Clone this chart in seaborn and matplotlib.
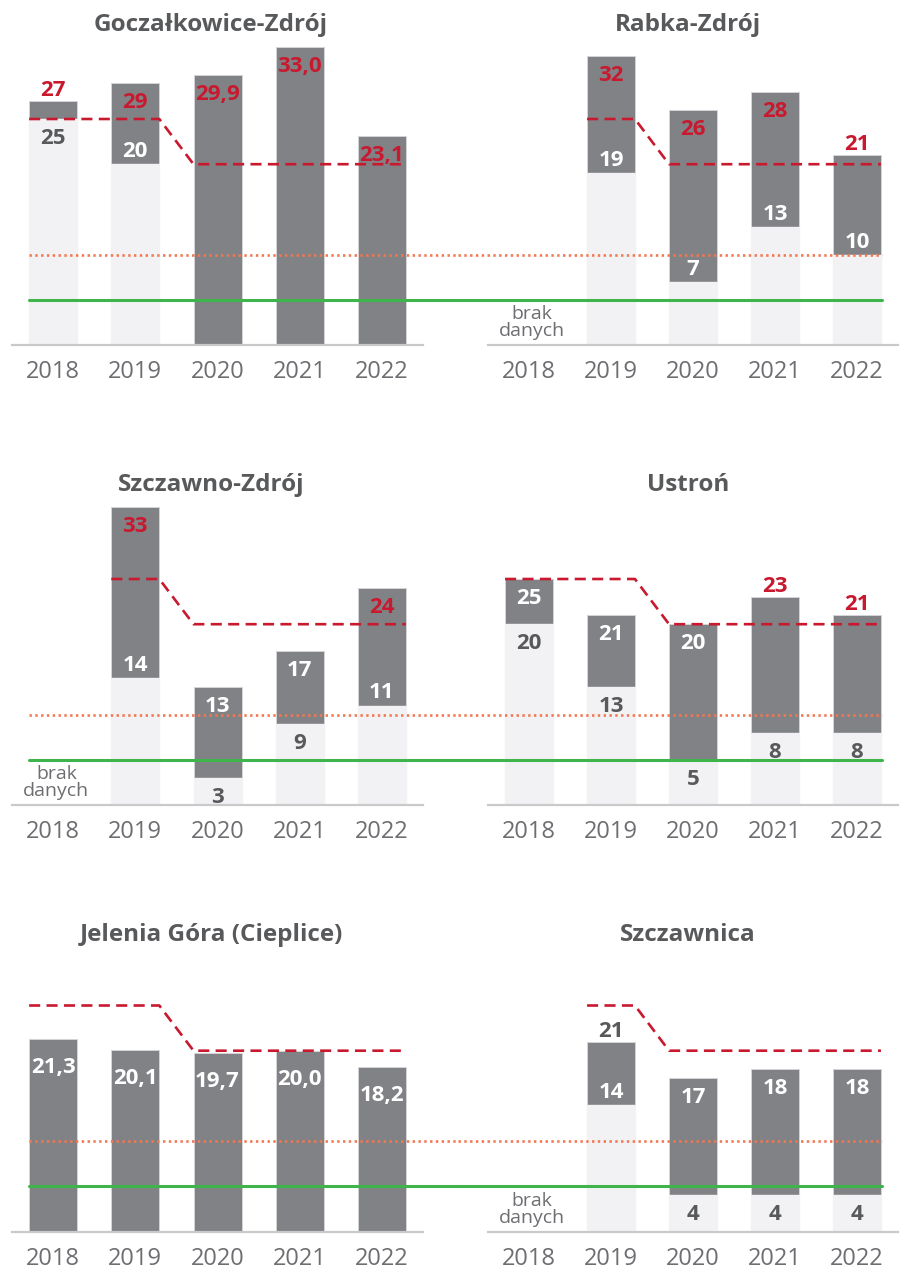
import numpy as np
import pandas as pd
import matplotlib
matplotlib.use("Agg")
import matplotlib.pyplot as plt
import matplotlib.transforms as mtransforms
import seaborn as sns

# ---------------- data ----------------
years = ["2018", "2019", "2020", "2021", "2022"]
limit_red = [25, 25, 20, 20, 20]     # dashed red threshold per year
limit_orange = 10                    # dotted orange threshold
limit_green = 5                      # solid green threshold

titles = ["Goczałkowice-Zdrój", "Rabka-Zdrój", "Szczawno-Zdrój",
          "Ustroń", "Jelenia Góra (Cieplice)", "Szczawnica"]

gocz_max = [27, 29, 29.9, 33.0, 23.1]
gocz_min = [25, 20, None, None, None]
gocz_dec = [0, 0, 1, 1, 1]

rabka_max = [None, 32, 26, 28, 21]
rabka_min = [None, 19, 7, 13, 10]
rabka_dec = [0, 0, 0, 0, 0]

szczawno_max = [None, 33, 13, 17, 24]
szczawno_min = [None, 14, 3, 9, 11]
szczawno_dec = [0, 0, 0, 0, 0]

ustron_max = [25, 21, 20, 23, 21]
ustron_min = [20, 13, 5, 8, 8]
ustron_dec = [0, 0, 0, 0, 0]

jelenia_max = [21.3, 20.1, 19.7, 20.0, 18.2]
jelenia_min = [None, None, None, None, None]
jelenia_dec = [1, 1, 1, 1, 1]

szczawnica_max = [None, 21, 17, 18, 18]
szczawnica_min = [None, 14, 4, 4, 4]
szczawnica_dec = [0, 0, 0, 0, 0]

no_data_text = "brak\ndanych"

# label placement (layout only): top label in / out / deep, low label in / out
gocz_pos = (["out", "in", "in", "in", "in"], ["out", "in", None, None, None])
rabka_pos = ([None, "in", "in", "in", "out"], [None, "in", "in", "in", "in"])
szczawno_pos = ([None, "in", "in", "in", "in"], [None, "in", "out", "out", "in"])
ustron_pos = (["in", "in", "in", "out", "out"], ["out", "out", "out", "out", "out"])
jelenia_pos = (["deep"] * 5, [None] * 5)
szczawnica_pos = ([None, "out", "in", "in", "in"], [None, "in", "out", "out", "out"])

stations = [
    (gocz_max, gocz_min, gocz_dec, gocz_pos),
    (rabka_max, rabka_min, rabka_dec, rabka_pos),
    (szczawno_max, szczawno_min, szczawno_dec, szczawno_pos),
    (ustron_max, ustron_min, ustron_dec, ustron_pos),
    (jelenia_max, jelenia_min, jelenia_dec, jelenia_pos),
    (szczawnica_max, szczawnica_min, szczawnica_dec, szczawnica_pos),
]

# ---------------- style ----------------
sns.set_style("white")
plt.rcParams["font.family"] = ["Open Sans", "DejaVu Sans"]

C_DARK = "#818286"
C_LIGHT = "#f2f2f4"
C_RED = "#c8192f"
C_ORANGE = "#f4774f"
C_GREEN = "#3db54a"
C_TEXT = "#58595b"
C_TICK = "#6d6e71"
C_BASE = "#c9c9c9"

W, H = 901, 1269
fig = plt.figure(figsize=(W / 100, H / 100), dpi=100)
fig.patch.set_facecolor("white")

PX_PER_UNIT = 9.04
YMAX = 36
col_x = [(12, 423), (488, 898)]
row_base = [345, 805, 1231.5]
title_y = [25, 485, 935]
title_x = [211, 688]
line_x = [(29, 458), (458, 882)]
BAR_W = 48 / 82.2

PT = 0.72  # points per pixel
LABEL_SIZE = 16


def fmt(v, d):
    if d:
        return f"{v:.1f}".replace(".", ",")
    return f"{v:.0f}"


def put_label(ax, i, val, txt, center_off_px, color, size=LABEL_SIZE):
    # baseline-anchored so that digits are visually centred on the offset
    digit_h = size / 0.72 * 0.714
    off = (center_off_px - digit_h / 2) * PT
    ax.annotate(txt, xy=(i, val), xytext=(0, off), textcoords="offset points",
                ha="center", va="baseline", fontsize=size, fontweight="bold",
                color=color, zorder=10)


for k, (vmax, vmin, vdec, (ptop, plow)) in enumerate(stations):
    r, c = divmod(k, 2)
    x0, x1 = col_x[c]
    base = row_base[r]
    hpx = YMAX * PX_PER_UNIT
    ax = fig.add_axes([x0 / W, 1 - base / H, (x1 - x0) / W, hpx / H])
    ax.set_facecolor("none")

    df_top = pd.DataFrame({"year": years, "value": vmax}).dropna()
    df_low = pd.DataFrame({"year": years, "value": vmin}).dropna()

    sns.barplot(data=df_top, x="year", y="value", order=years, ax=ax,
                color=C_DARK, saturation=1, width=BAR_W, errorbar=None,
                edgecolor="#d4d4d6", linewidth=0.7, zorder=2)
    if len(df_low):
        sns.barplot(data=df_low, x="year", y="value", order=years, ax=ax,
                    color=C_LIGHT, saturation=1, width=BAR_W, errorbar=None,
                    edgecolor=C_LIGHT, linewidth=1.0, zorder=3)

    ax.set_xlim(-0.5, 4.5)
    ax.set_ylim(0, YMAX)
    ax.set_xlabel("")
    ax.set_ylabel("")
    ax.set_yticks([])
    ax.set_xticks(range(len(years)))
    ax.set_xticklabels(years, fontsize=17, color=C_TICK)
    ax.tick_params(axis="x", length=0, pad=11)
    for s in ["top", "left", "right"]:
        ax.spines[s].set_visible(False)
    ax.spines["bottom"].set_color(C_BASE)
    ax.spines["bottom"].set_linewidth(1.6)
    ax.spines["bottom"].set_zorder(4)

    # threshold lines across the row (figure x, data y)
    trans = mtransforms.blended_transform_factory(fig.transFigure, ax.transData)
    lx0, lx1 = line_x[c]
    ax.plot([lx0 / W, lx1 / W], [limit_orange, limit_orange], transform=trans,
            color=C_ORANGE, lw=1.9, linestyle=(0, (0.9, 1.3)), clip_on=False,
            zorder=5, solid_capstyle="butt")
    ax.plot([lx0 / W, lx1 / W], [limit_green, limit_green], transform=trans,
            color=C_GREEN, lw=2.2, clip_on=False, zorder=5)

    # red dashed threshold
    first = next(i for i, v in enumerate(vmax) if v is not None)
    xs, ys = [], []
    for i in range(first, len(years)):
        xs += [i - BAR_W / 2, i + BAR_W / 2]
        ys += [limit_red[i], limit_red[i]]
    ax.plot(xs, ys, color=C_RED, lw=1.9, linestyle=(0, (4.2, 2.4)), zorder=6,
            clip_on=False)

    # value labels
    for i in range(len(years)):
        if vmax[i] is None:
            ax.text(i + 0.04, 2.45, no_data_text, ha="center", va="center",
                    fontsize=14, color=C_TICK, linespacing=0.92, zorder=10)
            continue
        top = vmax[i]
        pt = ptop[i]
        if pt is not None:
            if top > limit_red[i]:
                col = C_RED
            else:
                col = "white" if pt in ("in", "deep") else C_TEXT
            off = {"in": -17, "deep": -26, "out": 13}[pt]
            put_label(ax, i, top, fmt(top, vdec[i]), off, col)
        low = vmin[i]
        pl = plow[i]
        if low is not None and pl is not None:
            col = "white" if pl == "in" else C_TEXT
            off = 15 if pl == "in" else -17
            put_label(ax, i, low, fmt(low, 0), off, col)

    fig.text(title_x[c] / W, 1 - title_y[r] / H, titles[k], ha="center",
             va="center", fontsize=17.5, fontweight="bold", color=C_TEXT)

fig.savefig("out.png", dpi=100, facecolor="white")
